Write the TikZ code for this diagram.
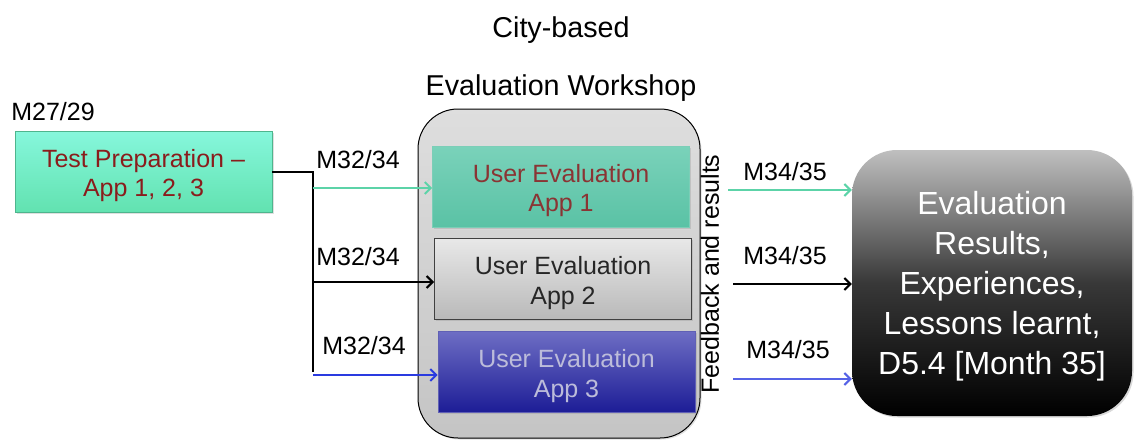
\documentclass[tikz,border=0pt]{standalone}
\usepackage{fontspec}
\setmainfont{Liberation Sans}
\usetikzlibrary{arrows.meta,shadows}
\definecolor{prepfill1}{HTML}{86F7DC}
\definecolor{prepfill2}{HTML}{62E2B0}
\definecolor{darkred}{HTML}{8A1C1C}
\definecolor{tealA}{HTML}{7AD2BA}
\definecolor{tealB}{HTML}{5AC2A5}
\definecolor{tealtext}{HTML}{8A3434}
\definecolor{tealline}{HTML}{5CD3A8}
\definecolor{blueA}{HTML}{6E6EC4}
\definecolor{blueB}{HTML}{1C1C96}
\definecolor{bluetext}{HTML}{BCBCDA}
\definecolor{blueline}{HTML}{2A3BE0}
\tikzset{
  lbl/.style={font=\fontsize{25}{30}\selectfont, inner sep=0pt},
  ttl/.style={font=\fontsize{28.7}{34}\selectfont, inner sep=0pt},
  boxshape/.style={minimum width=257pt, minimum height=81pt, inner sep=0pt,
     drop shadow={opacity=0.25, shadow xshift=1.5pt, shadow yshift=-1.5pt}},
  boxtext/.style={inner sep=0pt, align=center, font=\fontsize{25}{29.5}\selectfont},
  conn/.style={line width=2.8pt},
  arr/.style={line width=2.6pt, -{Straight Barb[length=6pt,width=12pt,line width=2pt]}},
}
\begin{document}
\begin{tikzpicture}[x=1pt,y=-1pt]
\useasboundingbox (0,0) rectangle (1134,442);
% titles
\node[ttl] (t1) at (561,30) {City-based};
\node[ttl] (t2) at (561,88) {Evaluation Workshop};
\node[lbl] (m27) at (53,112) {M27/29};
% workshop container
\node[draw=black, line width=1pt, rounded corners=40pt, top color=gray!26, bottom color=gray!46,
      minimum width=282pt, minimum height=329pt, inner sep=0pt,
      drop shadow={opacity=0.25, shadow xshift=1.5pt, shadow yshift=-1.5pt}] (ws) at (559,273.5) {};
% test preparation
\node[boxshape, draw=prepfill2!80!black, line width=0.4pt, top color=prepfill1, bottom color=prepfill2]
   (prep) at (143.5,171.5) {};
\node[boxtext, text=darkred] (prept) at ([yshift=-4pt]prep.center) {Test Preparation –\\App 1, 2, 3};
% app boxes
\node[boxshape, draw=tealB!80!white, line width=0.6pt, top color=tealA, bottom color=tealB]
   (a1) at (561,186.5) {};
\node[boxtext, text=tealtext] (a1t) at ([yshift=-4pt]a1.center) {User Evaluation\\App 1};
\node[boxshape, draw=black!75, line width=1pt, top color=gray!18, bottom color=gray!55]
   (a2) at (563,279) {};
\node[boxtext, text=black!85] (a2t) at ([yshift=-4pt]a2.center) {User Evaluation\\App 2};
\node[boxshape, draw=blueB!70!white, line width=0.6pt, top color=blueA, bottom color=blueB]
   (a3) at (566.5,372) {};
\node[boxtext, text=bluetext] (a3t) at ([yshift=-4pt]a3.center) {User Evaluation\\App 3};
% feedback text
\node[lbl, rotate=90] (fb) at (710,274) {Feedback and results};
% results
\node[rounded corners=45pt, top color=gray!50, bottom color=black, middle color=black!78,
      minimum width=280pt, minimum height=266pt, inner sep=0pt,
      drop shadow={opacity=0.3, shadow xshift=1.5pt, shadow yshift=-1.5pt}] (res) at (992,283) {};
\node[inner sep=0pt, align=center, text=white, font=\fontsize{32}{40}\selectfont]
      (rest) at ([yshift=-3pt]res.center)
      {Evaluation\\Results,\\Experiences,\\Lessons learnt,\\D5.4 [Month 35]};
% left connectors
\coordinate (jx) at (313,172);
\draw[conn] (prep.east |- jx) -- (jx) -- (jx |- a3.west);
\draw[arr, tealline] (jx |- 0,188) coordinate (j1) -- (a1.west |- j1);
\draw[arr, black] (jx |- 0,282) coordinate (j2) -- (a2.west |- j2);
\draw[arr, blueline] (jx |- 0,375) coordinate (j3) -- (a3.west |- j3);
\node[lbl] (l1) at (358,160) {M32/34};
\node[lbl] (l2) at (358,257) {M32/34};
\node[lbl] (l3) at (364,346) {M32/34};
% right connectors
\coordinate (r1) at (728,190);
\coordinate (r2) at (733,284);
\coordinate (r3) at (733,379);
\draw[arr, tealline] (r1) -- (res.west |- r1);
\draw[arr, black] (r2) -- (res.west |- r2);
\draw[arr, blueline!80!white] (r3) -- (res.west |- r3);
\node[lbl] (k1) at (785,172) {M34/35};
\node[lbl] (k2) at (785,256) {M34/35};
\node[lbl] (k3) at (788,350) {M34/35};
\end{tikzpicture}
\end{document}
